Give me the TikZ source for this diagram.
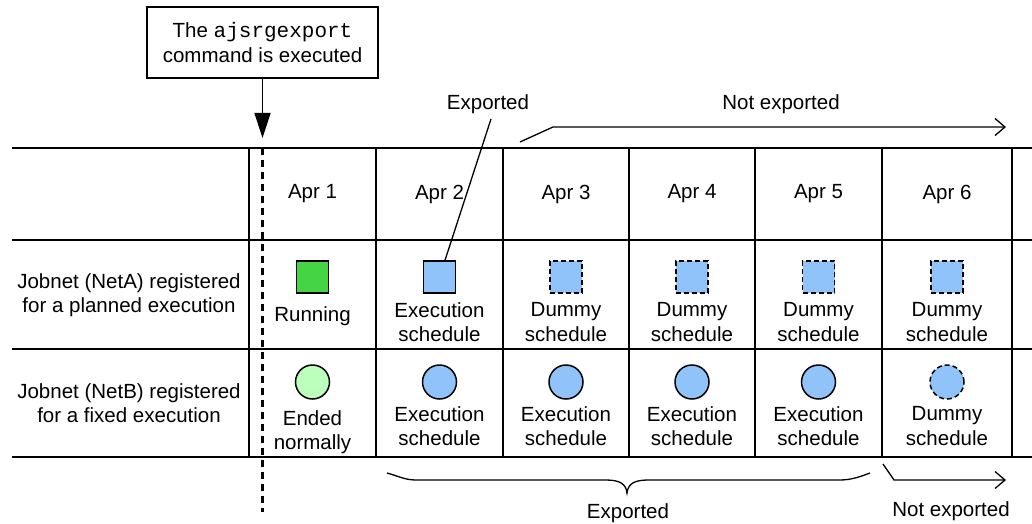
\documentclass[tikz,border=0pt]{standalone}
\usepackage{fontspec}
\setmainfont{Liberation Sans}
\setmonofont{Liberation Mono}
\usetikzlibrary{arrows.meta,calc}
\definecolor{runG}{RGB}{68,212,68}
\definecolor{schB}{RGB}{143,195,250}
\definecolor{endG}{RGB}{188,255,188}
\begin{document}
\begin{tikzpicture}[x=1pt,y=-1pt,
  every node/.style={font=\fontsize{20.5}{24.5}\selectfont, inner sep=0pt},
  grid/.style={line width=1.6pt},
  conn/.style={line width=1.3pt},
  sq/.style={draw, line width=1.5pt, minimum size=32pt},
  dsq/.style={sq, dash pattern=on 5pt off 3pt},
  circ/.style={draw, circle, line width=1.5pt, minimum size=34pt},
  dcirc/.style={circ, dash pattern=on 5pt off 3pt},
  txt/.style={align=center}]
\useasboundingbox (0,0) rectangle (1032,524);
% grid
\foreach \y in {148,240,349,457} \draw[grid] (12,\y) -- (1032,\y);
\foreach \x in {249,376,503,629,755,882,1012} \draw[grid] (\x,148) -- (\x,457);
% header
\foreach \x/\d in {312.5/1,439.5/2,566/3,692/4,818.5/5,947/6} \node (apr\d) at (\x,194) {Apr \d};
% row labels
\node[txt] (rowA) at (129,295) {Jobnet (NetA) registered\\for a planned execution};
\node[txt] (rowB) at (129,403) {Jobnet (NetB) registered\\for a fixed execution};
% row A
\node[sq, fill=runG] (a1) at (312.5,277) {};
\node[sq, fill=schB] (a2) at (439.5,277) {};
\node[dsq, fill=schB] (a3) at (566,277) {};
\node[dsq, fill=schB] (a4) at (692,277) {};
\node[dsq, fill=schB] (a5) at (818.5,277) {};
\node[dsq, fill=schB] (a6) at (947,277) {};
\node (ta1) at (312.5,316) {Running};
\node[txt] (ta2) at (439.5,322) {Execution\\schedule};
\node[txt] (ta3) at (566,322) {Dummy\\schedule};
\node[txt] (ta4) at (692,322) {Dummy\\schedule};
\node[txt] (ta5) at (818.5,322) {Dummy\\schedule};
\node[txt] (ta6) at (947,322) {Dummy\\schedule};
% row B
\node[circ, fill=endG] (b1) at (312.5,382) {};
\node[circ, fill=schB] (b2) at (439.5,382) {};
\node[circ, fill=schB] (b3) at (566,382) {};
\node[circ, fill=schB] (b4) at (692,382) {};
\node[circ, fill=schB] (b5) at (818.5,382) {};
\node[dcirc, fill=schB] (b6) at (947,382) {};
\node[txt] (tb1) at (312.5,432) {Ended\\normally};
\node[txt] (tb2) at (439.5,426) {Execution\\schedule};
\node[txt] (tb3) at (566,426) {Execution\\schedule};
\node[txt] (tb4) at (692,426) {Execution\\schedule};
\node[txt] (tb5) at (818.5,426) {Execution\\schedule};
\node[txt] (tb6) at (947,426) {Dummy\\schedule};
% command box and arrow
\node[draw, line width=1.5pt, minimum width=231pt, minimum height=71pt, txt] (cmd) at (262.5,42.5) {The {\fontsize{21}{24.5}\selectfont\ttfamily ajsrgexport}\\command is executed};
\coordinate (cmdtip) at (262.5,138);
\draw[line width=1.5pt, -{Triangle[length=25pt,width=16pt]}] (cmd.south) -- (cmdtip);
\coordinate (ds) at (262.5,148);
\coordinate (de) at (262.5,512);
\draw[line width=3.5pt, dash pattern=on 7pt off 5pt] (ds) -- (de);
% exported label (top)
\node (explbl) at (488,104) {Exported};
\coordinate (expA) at (491,119);
\draw[conn] (expA) -- ($(a2.north)+(5.5,0)$);
% not exported (top)
\node (nexlbl) at (781,104) {Not exported};
\coordinate (nA) at (520,142);
\coordinate (nB) at (553,127);
\coordinate (nC) at (1006,127);
\draw[conn, -{Straight Barb[length=10pt,width=17pt]}] (nA) -- (nB) -- (nC);
% brace (bottom)
\coordinate (brL) at (387,473);
\coordinate (brT) at (627,493);
\coordinate (brR) at (870,473);
\draw[conn] (brL) .. controls (398,476) and (405,480) .. (416,480) -- (606,480)
  .. controls (620,480) and (626,484) .. (brT)
  .. controls (628,484) and (634,480) .. (648,480) -- (840,480)
  .. controls (852,480) and (862,476) .. (brR);
\node (explbl2) at (628,513) {Exported};
% not exported (bottom)
\node (nexlbl2) at (951,511) {Not exported};
\coordinate (mA) at (883,464);
\coordinate (mB) at (894,480);
\coordinate (mC) at (1006,480);
\draw[conn, -{Straight Barb[length=10pt,width=17pt]}] (mA) -- (mB) -- (mC);
\end{tikzpicture}
\end{document}
